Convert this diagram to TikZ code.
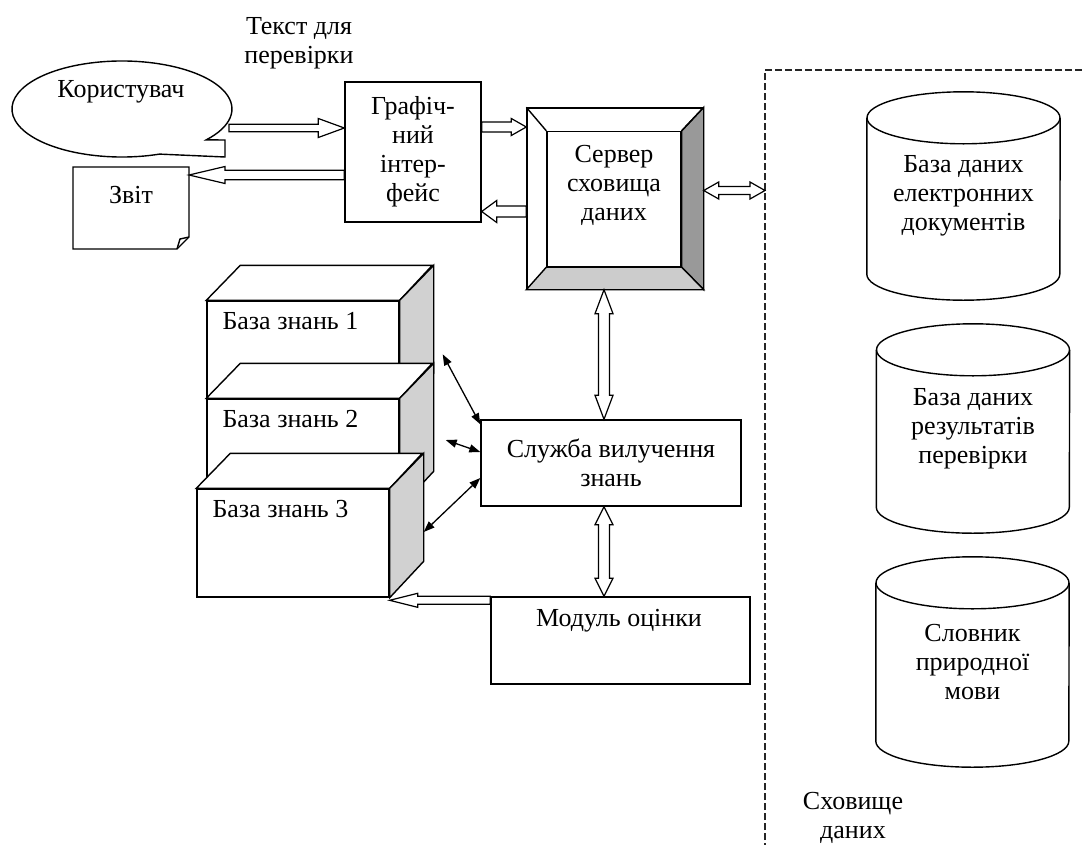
\documentclass[tikz,border=0pt]{standalone}
\usepackage{fontspec}
\setmainfont{Liberation Serif}
\usetikzlibrary{positioning,arrows.meta,calc}

% hollow block arrows: from, to, half shaft, half head, head length
\newcommand\holarrow[5]{%
  \coordinate (ha) at ($(#2)!#5pt!(#1)$);
  \draw[hol] ($(#1)!#3pt!90:(#2)$) -- ($(ha)!#3pt!90:(#2)$) -- ($(ha)!#4pt!90:(#2)$) -- (#2)
    -- ($(ha)!#4pt!-90:(#2)$) -- ($(ha)!#3pt!-90:(#2)$) -- ($(#1)!#3pt!-90:(#2)$) -- cycle;}
\newcommand\holboth[5]{%
  \coordinate (ha) at ($(#1)!#5pt!(#2)$);
  \coordinate (hb) at ($(#2)!#5pt!(#1)$);
  \draw[hol] (#1) -- ($(ha)!#4pt!90:(#2)$) -- ($(ha)!#3pt!90:(#2)$) -- ($(hb)!#3pt!90:(#2)$) -- ($(hb)!#4pt!90:(#2)$) -- (#2)
    -- ($(hb)!#4pt!-90:(#2)$) -- ($(hb)!#3pt!-90:(#2)$) -- ($(ha)!#3pt!-90:(#2)$) -- ($(ha)!#4pt!-90:(#2)$) -- cycle;}
% cylinder round a node
\newcommand\drum[1]{%
  \draw[ln] (#1.north west) -- (#1.south west) arc[start angle=180,end angle=0,x radius=96.5,y radius=26] -- (#1.north east);
  \draw[ln] (#1.north) ellipse[x radius=96.5,y radius=26];}
% 3d box behind a front face
\newcommand\kbox[1]{%
  \draw[ln,fill=white] (#1.north west) -- ++(34,-35) -- ++(192,0) -- (#1.north east) -- cycle;
  \draw[ln,fill=black!18] (#1.north east) -- ++(34,-35) -- ++(0,108) -- (#1.south east) -- cycle;}

\begin{document}
\begin{tikzpicture}[x=1pt,y=-1pt,>={Triangle[length=11pt,width=8pt]},
  every node/.style={font=\fontsize{26}{29}\selectfont},
  txt/.style={align=center,inner sep=0pt},
  box/.style={draw,line width=1.4pt,fill=white,inner sep=0pt,align=center},
  ln/.style={line width=1.4pt},
  hol/.style={draw,line width=1.2pt,fill=white},
  dbl/.style={<->,line width=1.3pt},
  dsh/.style={line width=1.3pt,dash pattern=on 7pt off 3pt,black!85}]
\useasboundingbox (0,0) rectangle (1085,844);
% user side
\node[txt] (cap) at (299,43) {Текст для\\перевірки};
\draw[ln,fill=white] (159.6,154.1) arc[start angle=70,end angle=400,x radius=110,y radius=48] -- (225,140) -- (225,157) -- cycle;
\node[txt] (usr) at (121,92) {Користувач};
\coordinate (usr-out) at (229,128);
\draw[ln,fill=white] (73,167) -- (189,167) -- (189,237) -- (177,249) -- (73,249) -- cycle;
\draw[ln] (189,237) -- (180,239) -- (177,249);
\node[txt] (rep) at (131,195) {Звіт};
\coordinate (rep-in) at (189,175);
\node[box,minimum width=136pt,minimum height=140pt] (gui) at (413,152) {Графіч-\\ний\\інтер-\\фейс};
% server
\node[box,minimum width=176pt,minimum height=181pt] (srv) at (615,198.5) {};
\node[box,minimum width=134pt,minimum height=135pt] (srvi) at (614,199) {};
\draw[ln,fill=black!40] (srv.north east) -- (srv.south east) -- (srvi.south east) -- (srvi.north east) -- cycle;
\draw[ln,fill=black!20] (srv.south west) -- (srv.south east) -- (srvi.south east) -- (srvi.south west) -- cycle;
\draw[ln] (srv.north west) -- (srvi.north west) (srv.north east) -- (srvi.north east);
\node[txt] (srvt) at (614,185) {Сервер\\сховища\\даних};
% storage
\coordinate (dtl) at (765,70);
\draw[dsh] (765,850) -- (dtl) -- (1090,70);
\node[txt] (sto) at (853,818) {Сховище\\даних};
\node[txt,minimum width=193pt,minimum height=156pt] (db1) at (963.5,196) {База даних\\електронних\\документів};
\drum{db1}
\node[txt,minimum width=193pt,minimum height=157pt] (db2) at (973,428.5) {База даних\\результатів\\перевірки};
\drum{db2}
\node[txt,minimum width=193pt,minimum height=158pt] (db3) at (972.5,662) {Словник\\природної\\мови};
\drum{db3}
% knowledge bases
\node[box,minimum width=192pt,minimum height=108pt] (kb1) at (303,355) {};
\kbox{kb1}
\node[txt,anchor=base west] (kb1t) at ($(kb1.north west)+(16,29)$) {База знань 1};
\node[box,minimum width=192pt,minimum height=108pt] (kb2) at (303,453) {};
\kbox{kb2}
\node[txt,anchor=base west] (kb2t) at ($(kb2.north west)+(16,29)$) {База знань 2};
\node[box,minimum width=192pt,minimum height=108pt] (kb3) at (293,543) {};
\kbox{kb3}
\node[txt,anchor=base west] (kb3t) at ($(kb3.north west)+(16,29)$) {База знань 3};
% service and module
\node[box,minimum width=260pt,minimum height=86pt] (svc) at (611,463) {Служба вилучення\\знань};
\node[box,minimum width=259pt,minimum height=87pt] (mod) at (620.5,640.5) {};
\node[txt] (modt) at (619,621) {Модуль оцінки};
% block arrows
\coordinate (g-in) at ($(gui.west)+(0,-24)$);
\holarrow{usr-out}{g-in}{3.7}{9.5}{26}
\coordinate (g-out) at ($(gui.west)+(0,23)$);
\holarrow{g-out}{rep-in}{4.7}{8.5}{36}
\coordinate (g-e1) at ($(gui.east)+(0,-25)$);
\coordinate (s-w1) at (srv.west |- g-e1);
\holarrow{g-e1}{s-w1}{5}{8.5}{15}
\coordinate (s-w2) at ($(srv.west)+(0,13)$);
\coordinate (g-e2) at (gui.east |- s-w2);
\holarrow{s-w2}{g-e2}{5.5}{11}{15}
\coordinate (s-e) at ($(srv.east)+(0,-8)$);
\coordinate (d-w) at (dtl |- s-e);
\holboth{s-e}{d-w}{4}{8.5}{15}
\coordinate (s-s) at ($(srv.south)+(-11,0)$);
\coordinate (v-n) at (s-s |- svc.north);
\holboth{s-s}{v-n}{5.5}{9}{24}
\coordinate (v-s) at (s-s |- svc.south);
\coordinate (m-n) at (s-s |- mod.north);
\holboth{v-s}{m-n}{5.5}{9}{18}
\coordinate (m-w) at ($(mod.north west)+(0,4)$);
\coordinate (k-e) at (kb3.south east |- m-w);
\holarrow{m-w}{k-e}{4}{7}{28}
% thin arrows to the knowledge bases
\coordinate (k1) at ($(kb2.north east)+(43,-44)$);
\draw[dbl] (k1) -- ($(svc.north west)+(0,5)$);
\coordinate (k2) at ($(kb2.east)+(46,-13)$);
\draw[dbl] (k2) -- ($(svc.west)+(0,-11)$);
\coordinate (k3) at ($(kb3.east)+(34,-11)$);
\draw[dbl] (k3) -- ($(svc.west)+(0,15)$);
\end{tikzpicture}
\end{document}
